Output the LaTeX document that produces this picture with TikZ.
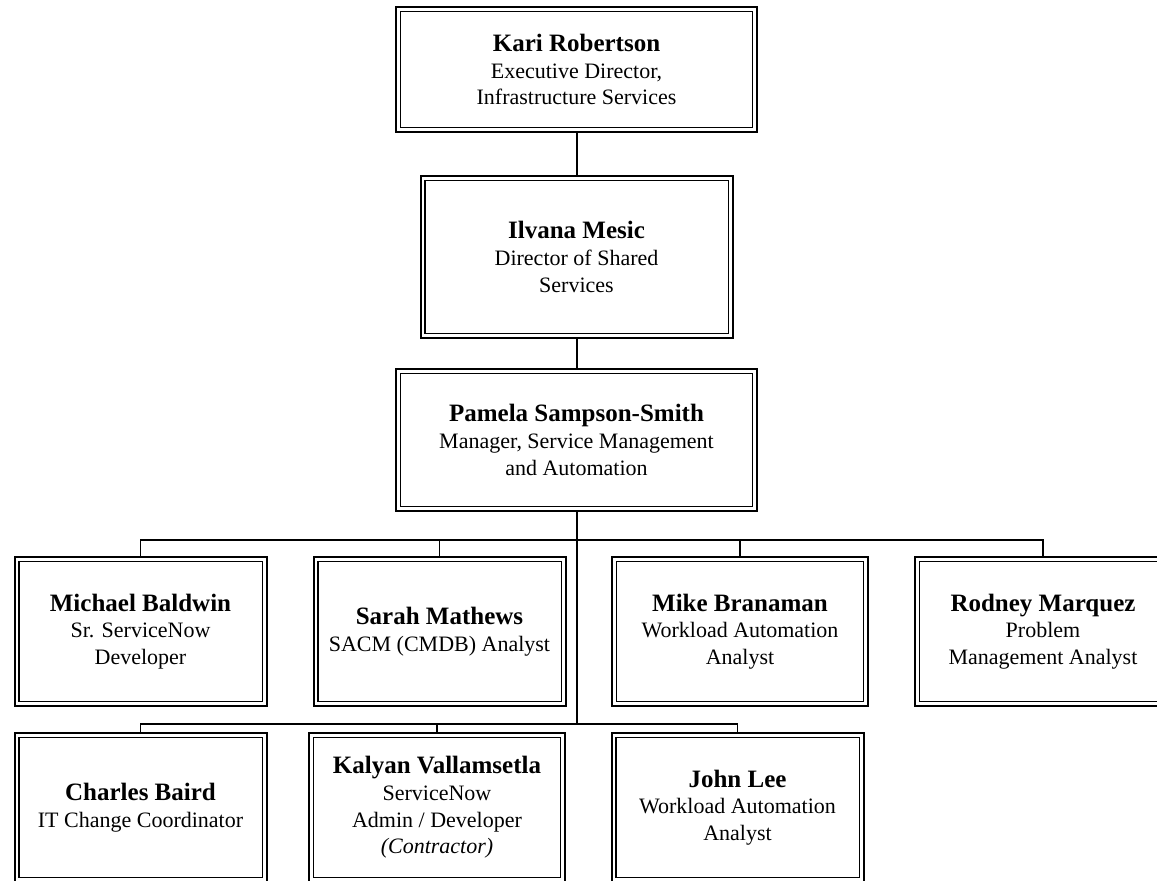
\documentclass[tikz,border=0pt]{standalone}
\usepackage{fontspec}
\setmainfont{Liberation Serif}
\usetikzlibrary{positioning}

\newcommand{\pname}[1]{{\fontsize{12.5}{13.3}\selectfont\bfseries #1}}

\begin{document}
\begin{tikzpicture}[
    x=0.5pt, y=-0.5pt,
    every node/.style={font=\fontsize{11}{13.3}\selectfont},
    person/.style={draw, line width=1pt, align=center, inner sep=0pt,
      path picture={\draw[line width=0.6pt]
        ([shift={(2.2pt,-2.2pt)}]path picture bounding box.north west) rectangle
        ([shift={(-2.2pt,2.2pt)}]path picture bounding box.south east);}},
    top box/.style={person, minimum width=180.5pt},
    staff box/.style={person, minimum width=126pt, minimum height=74.5pt},
    every path/.style={line width=0.8pt},
  ]
  \useasboundingbox (0,0) rectangle (1157,881);

  \node[top box, minimum height=62.5pt] (kari) at (576.5,69.5)
    {\pname{Kari Robertson}\\Executive Director,\\Infrastructure Services};
  \node[person, minimum width=156pt, minimum height=81pt] (ilvana) at (576.5,257)
    {\pname{Ilvana Mesic}\\Director of Shared\\Services};
  \node[top box, minimum height=71pt] (pamela) at (576.5,440)
    {\pname{Pamela Sampson-Smith}\\Manager, Service Management\\and Automation};

  % first row
  \node[staff box] (michael) at (140.5,631.5)
    {\pname{Michael Baldwin}\\Sr. ServiceNow\\Developer};
  \node[staff box] (sarah) at (439.5,631.5)
    {\pname{Sarah Mathews}\\SACM (CMDB) Analyst};
  \node[staff box, minimum width=128pt] (mike) at (740,631.5)
    {\pname{Mike Branaman}\\Workload Automation\\Analyst};
  \node[staff box, minimum width=128pt] (rodney) at (1043,631.5)
    {\pname{Rodney Marquez}\\Problem\\Management Analyst};

  % second row
  \node[staff box] (charles) at (140.5,807.5)
    {\pname{Charles Baird}\\IT Change Coordinator};
  \node[staff box, minimum width=128pt] (kalyan) at (437,807.5)
    {\pname{Kalyan Vallamsetla}\\ServiceNow\\Admin / Developer\\\textit{(Contractor)}};
  \node[staff box] (john) at (737.5,807.5)
    {\pname{John Lee}\\Workload Automation\\Analyst};

  \coordinate (bus1) at (576.5,540);
  \coordinate (bus2) at (576.5,724);

  \draw[line width=1pt] (kari) -- (ilvana);
  \draw[line width=1pt] (ilvana) -- (pamela);
  \draw[line width=1pt] (pamela) -- (bus2);

  \draw (michael.north) |- (bus1) -| (rodney.north);
  \draw (sarah.north) -- (sarah.north |- bus1);
  \draw (mike.north) -- (mike.north |- bus1);

  \draw (charles.north) |- (bus2) -| (john.north);
  \draw (kalyan.north) -- (kalyan.north |- bus2);

\end{tikzpicture}
\end{document}
